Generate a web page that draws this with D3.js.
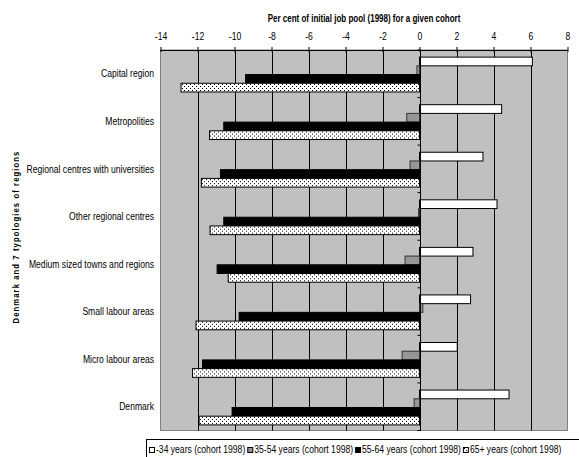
<!DOCTYPE html>
<html>
<head>
<meta charset="utf-8">
<script src="https://cdn.jsdelivr.net/npm/d3@7"></script>
<style>
  body { margin: 0; background: #fff; }
  svg { display: block; font-family: "Liberation Sans", Arial, sans-serif; }
</style>
</head>
<body>
<svg id="chart" width="579" height="457"></svg>
<script>
// ---- data ----
const categories = ["Capital region", "Metropolities", "Regional centres with universities",
  "Other regional centres", "Medium sized towns and regions", "Small labour areas",
  "Micro labour areas", "Denmark"];
const seriesNames = ["-34 years (cohort 1998)", "35-54 years (cohort 1998)",
  "55-64 years (cohort 1998)", "65+ years (cohort 1998)"];
const valuesUnder34 = [6.10, 4.44, 3.43, 4.19, 2.89, 2.76, 2.04, 4.84];
const values35to54 = [-0.14, -0.69, -0.51, -0.05, -0.78, 0.18, -0.94, -0.29];
const values55to64 = [-9.40, -10.58, -10.76, -10.58, -10.94, -9.75, -11.73, -10.13];
const values65plus = [-12.89, -11.35, -11.79, -11.32, -10.34, -12.08, -12.27, -11.91];
const xTickValues = [-14, -12, -10, -8, -6, -4, -2, 0, 2, 4, 6, 8];
const xTitle = "Per cent of initial job pool (1998) for a given cohort";
const yTitle = "Denmark and 7 typologies of regions";

const seriesValues = [valuesUnder34, values35to54, values55to64, values65plus];

// ---- layout ----
const svg = d3.select("#chart");
const L = 160.5, R = 567.5, T = 50, B = 430.5;
const SX = 0.86; // horizontal text condensation

const x = d3.scaleLinear().domain([-14, 8]).range([L, R]);
const y0 = d3.scaleBand().domain(categories).range([T, B]).padding(0);
const y1 = d3.scaleBand().domain(seriesNames).range([0, y0.bandwidth()])
  .paddingInner(0).paddingOuter(0.73).align(0.56);

// pattern for 65+
const defs = svg.append("defs");
const pat = defs.append("pattern").attr("id", "dots").attr("patternUnits", "userSpaceOnUse")
  .attr("width", 4).attr("height", 4);
pat.append("rect").attr("width", 4).attr("height", 4).attr("fill", "#fff");
pat.append("rect").attr("x", 0).attr("y", 0).attr("width", 1).attr("height", 1).attr("fill", "#000");
pat.append("rect").attr("x", 2).attr("y", 2).attr("width", 1).attr("height", 1).attr("fill", "#000");

const fills = ["#ffffff", "#969696", "#000000", "url(#dots)"];
const strokes = ["#000", "#333", "#000", "#000"];

// plot background
svg.append("rect").attr("x", L).attr("y", T).attr("width", R - L).attr("height", B - T)
  .attr("fill", "#c0c0c0").attr("stroke", "#808080").attr("stroke-width", 1);

// vertical gridlines
svg.append("g").selectAll("line").data(xTickValues.filter(d => d > -14 && d < 8)).join("line")
  .attr("x1", d => Math.round(x(d)) + 0.5).attr("x2", d => Math.round(x(d)) + 0.5)
  .attr("y1", T).attr("y2", B).attr("stroke", "#000").attr("stroke-width", 1);

// bars
const groups = svg.append("g").selectAll("g").data(categories).join("g")
  .attr("transform", d => `translate(0,${y0(d)})`);
groups.selectAll("rect").data((c, i) => seriesNames.map((s, k) => ({ s, k, v: seriesValues[k][i] })))
  .join("rect")
  .attr("x", d => Math.min(x(0), x(d.v)))
  .attr("y", d => y1(d.s))
  .attr("width", d => Math.abs(x(d.v) - x(0)))
  .attr("height", y1.bandwidth())
  .attr("fill", d => fills[d.k])
  .attr("stroke", d => strokes[d.k])
  .attr("stroke-width", 1);

// category axis at zero
const x0 = Math.round(x(0)) + 0.5;
svg.append("line").attr("x1", x0).attr("x2", x0).attr("y1", T).attr("y2", B)
  .attr("stroke", "#000").attr("stroke-width", 1);
const bounds = categories.map(c => y0(c)).concat([B]);
svg.append("g").selectAll("line").data(bounds).join("line")
  .attr("x1", x0 - 3).attr("x2", x0).attr("y1", d => d).attr("y2", d => d)
  .attr("stroke", "#000");

// category labels
svg.append("g").selectAll("text").data(categories).join("text")
  .attr("transform", d => `translate(154,${y0(d) + y0.bandwidth() / 2 + 3.6}) scale(${SX},1)`)
  .attr("text-anchor", "end").attr("font-size", 10).attr("fill", "#000")
  .text(d => d);

// top value axis
const axisG = svg.append("g").attr("transform", `translate(0,${T})`)
  .call(d3.axisTop(x).tickValues(xTickValues).tickSize(3).tickSizeOuter(0).tickFormat(d3.format("d")));
axisG.select(".domain").attr("stroke", "#000").attr("d", `M${L},0.5H${R}`);
axisG.selectAll(".tick line").attr("y1", 2).attr("y2", -3).attr("stroke", "#000");
axisG.selectAll(".tick text").attr("y", -10.5).attr("dy", 0).attr("font-size", 10)
  .attr("font-family", "Liberation Sans, Arial, sans-serif").attr("fill", "#000")
  .attr("transform", `scale(${SX},1)`)
  .text(d => d < 0 ? "-" + Math.abs(d) : String(d));

// x title
svg.append("text").attr("transform", `translate(${(L + R) / 2},22) scale(0.8,1)`)
  .attr("text-anchor", "middle").attr("font-size", 10).attr("font-weight", "bold")
  .text(xTitle);

// y title
svg.append("text").attr("transform", `translate(18.5,237) rotate(-90) scale(0.85,1)`)
  .attr("text-anchor", "middle").attr("font-size", 9).attr("font-weight", "bold")
  .attr("letter-spacing", 1.3)
  .text(yTitle);

// legend
svg.append("rect").attr("x", 146.5).attr("y", 439.5).attr("width", 500).attr("height", 40)
  .attr("fill", "#fff").attr("stroke", "#000").attr("stroke-width", 1);
let lx = 149.5;
seriesNames.forEach((s, k) => {
  svg.append("rect").attr("x", lx).attr("y", 447.5).attr("width", 5).attr("height", 5)
    .attr("fill", fills[k]).attr("stroke", "#000").attr("stroke-width", 1);
  const t = svg.append("text").attr("transform", `translate(${lx + 6.5},452.5) scale(${SX},1)`)
    .attr("font-size", 10).attr("fill", "#000").text(s);
  const w = t.node().getComputedTextLength() * SX;
  lx = lx + 6.5 + w + 2.5;
});
</script>
</body>
</html>
